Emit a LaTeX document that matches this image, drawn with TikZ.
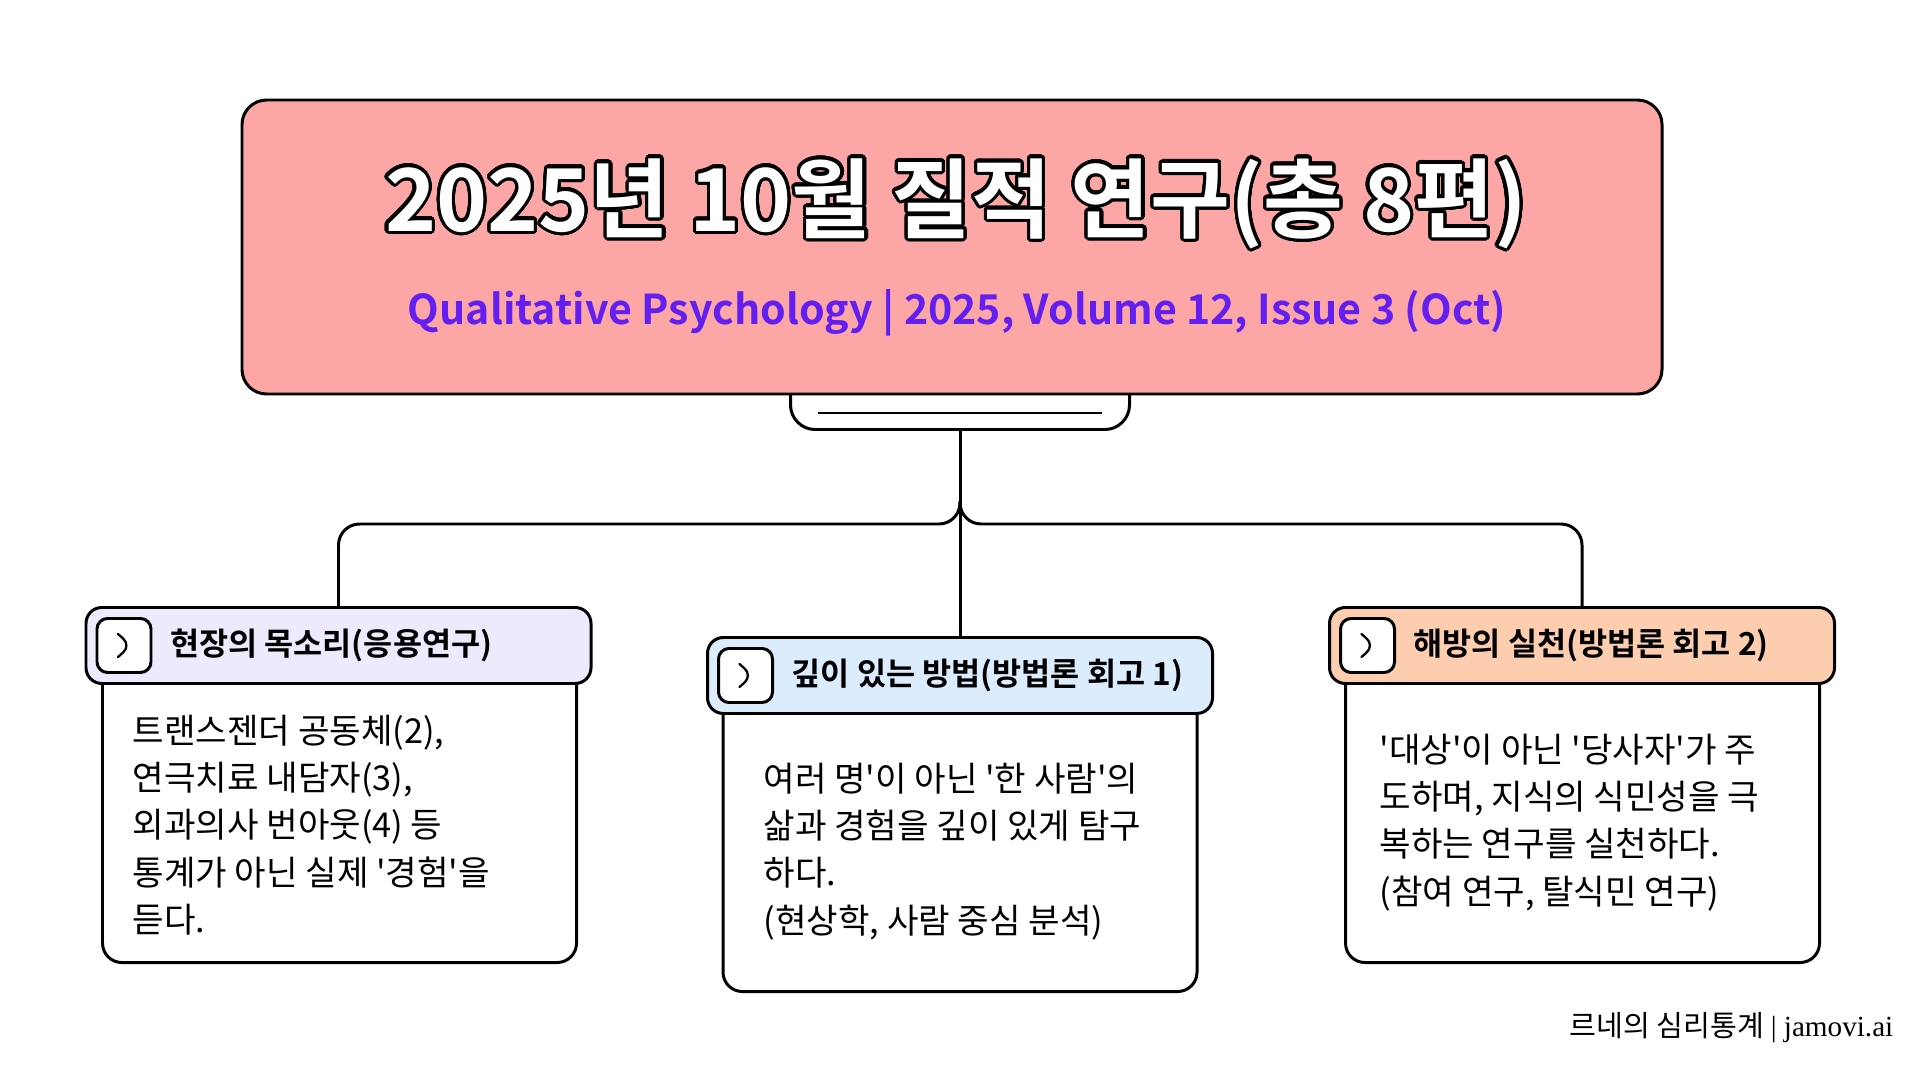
\documentclass[tikz,border=0pt]{standalone}
\usepackage{fontspec}
\usepackage{contour}
\usetikzlibrary{positioning,calc}
\setmainfont{Noto Sans CJK KR}[BoldFont={Noto Sans CJK KR Bold}]
\newfontfamily\serfont{Liberation Serif}
\newcommand\apo{\textquotesingle}
\definecolor{QPpink}{RGB}{252,166,166}
\definecolor{QPpurple}{RGB}{98,31,240}
\definecolor{QPlav}{RGB}{238,233,252}
\definecolor{QPblue}{RGB}{219,236,253}
\definecolor{QPpeach}{RGB}{253,205,176}
\contourlength{0.9pt}
\contournumber{32}
\tikzset{
  card/.style={draw=black,line width=0.85pt,rounded corners=7pt,inner sep=0pt},
  hdbox/.style={draw=black,line width=0.85pt,rounded corners=4.5pt,minimum width=5.05cm,
                minimum height=0.76cm,inner sep=0pt,anchor=north},
  bodybox/.style={draw=black,line width=0.85pt,fill=white,rounded corners=5.5pt,
                  minimum width=4.74cm,minimum height=3cm,inner sep=0pt,anchor=south},
  iconbox/.style={draw=black,line width=0.85pt,fill=white,rounded corners=3pt,minimum size=0.54cm,
                  inner sep=0pt,anchor=west,
                  path picture={\draw[line width=0.65pt,line cap=round,line join=miter]
                    ([shift={(-0.06,0.115)}]path picture bounding box.center)
                    -- ([shift={(0.07,0)}]path picture bounding box.center)
                    -- ([shift={(-0.06,-0.115)}]path picture bounding box.center);}},
  hdtext/.style={font=\fontsize{9}{11}\selectfont\bfseries,inner sep=0pt},
  bodytext/.style={font=\fontsize{9.75}{13.5}\selectfont,align=left,inner sep=0pt,anchor=north west},
  link/.style={draw=black,line width=0.85pt,rounded corners=6pt}
}

\begin{document}
\begin{tikzpicture}[node distance=0.17cm]
  \useasboundingbox (0,0) rectangle (19.2,-10.8);
  % title card with its tab
  \node[card,fill=white,minimum width=3.39cm,minimum height=0.8cm,anchor=south] (tab) at (9.60,-4.31) {};
  \node[card,fill=QPpink,minimum width=14.2cm,minimum height=2.94cm] (head) at (9.52,-2.47) {};
  \draw[line width=0.75pt] ($(tab.south west)+(0.29,0.18)$) -- ($(tab.south east)+(-0.29,0.18)$);
  \node[font=\fontsize{24.7}{28}\selectfont\bfseries,text=white] (ttl) at (9.56,-2.05)
    {\contour{black}{2025년 10월 질적 연구(총 8편)}};
  \node[font=\fontsize{11.7}{14}\selectfont\bfseries,text=QPpurple] (sub) at (9.57,-3.13)
    {Qualitative Psychology | 2025, Volume 12, Issue 3 (Oct)};

  % three branches
  \node[bodybox] (bd1) at (3.395,-9.64) {};
  \node[hdbox,fill=QPlav] (hd1) at (3.385,-6.06) {};
  \node[iconbox] (ic1) at ([xshift=0.11cm]hd1.west) {};
  \node[hdtext,right=of ic1] (ht1) {현장의 목소리(응용연구)};
  \node[bodytext] (bt1) at (1.32,-7.14)
    {트랜스젠더 공동체(2),\\연극치료 내담자(3),\\외과의사 번아웃(4) 등\\통계가 아닌 실제 \apo 경험\apo 을\\듣다.};

  \node[bodybox] (bd2) at (9.60,-9.93) {};
  \node[hdbox,fill=QPblue] (hd2) at (9.60,-6.36) {};
  \node[iconbox] (ic2) at ([xshift=0.11cm]hd2.west) {};
  \node[hdtext,right=of ic2] (ht2) {깊이 있는 방법(방법론 회고 1)};
  \node[bodytext] (bt2) at (7.63,-7.62)
    {여러 명\apo 이 아닌 \apo 한 사람\apo 의\\삶과 경험을 깊이 있게 탐구\\하다.\\(현상학, 사람 중심 분석)};

  \node[bodybox] (bd3) at (15.825,-9.64) {};
  \node[hdbox,fill=QPpeach] (hd3) at (15.82,-6.06) {};
  \node[iconbox] (ic3) at ([xshift=0.11cm]hd3.west) {};
  \node[hdtext,right=of ic3] (ht3) {해방의 실천(방법론 회고 2)};
  \node[bodytext] (bt3) at (13.79,-7.33)
    {\apo 대상\apo 이 아닌 \apo 당사자\apo 가 주\\도하며, 지식의 식민성을 극\\복하는 연구를 실천하다.\\(참여 연구, 탈식민 연구)};

  \draw[link] (tab.south) -- (hd2.north);
  \draw[link] ([yshift=-0.70cm]tab.south) -- ([yshift=-0.93cm]tab.south) -| (hd1.north);
  \draw[link] ([yshift=-0.70cm]tab.south) -- ([yshift=-0.93cm]tab.south) -| (hd3.north);

  \node[anchor=east,inner sep=0pt,font=\fontsize{8.3}{10}\selectfont] (foot) at (18.94,-10.28)
    {르네의 심리통계 {\serfont | jamovi.ai}};
\end{tikzpicture}
\end{document}
